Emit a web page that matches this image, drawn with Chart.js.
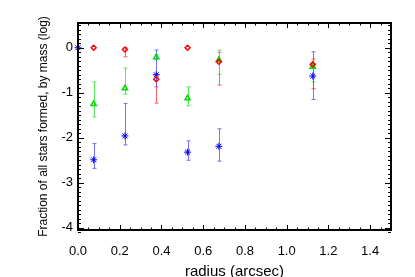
<!DOCTYPE html>
<html>
<head>
<meta charset="utf-8">
<script src="https://cdn.jsdelivr.net/npm/chart.js@4"></script>
<style>
  html, body { margin: 0; padding: 0; background: #fff; }
  #wrap { width: 415px; height: 277px; }
</style>
</head>
<body>
<div id="wrap"><canvas id="chart" width="415" height="277"></canvas></div>
<script>
// radius (arcsec) / log mass fraction
const redX   = [0.075, 0.225, 0.375, 0.525, 0.675, 1.125];
const redY   = [0.0, -0.04, -0.70, 0.0, -0.31, -0.37];
const redLo  = [0.0, -0.20, -1.23, 0.0, -0.83, -0.91];
const redHi  = [0.0, 0.00, -0.60, 0.0, -0.10, -0.25];

const greenX  = [0.075, 0.225, 0.375, 0.525, 0.675, 1.125];
const greenY  = [-1.25, -0.90, -0.21, -1.12, -0.27, -0.42];
const greenLo = [-1.54, -1.03, -0.25, -1.29, -0.59, -0.76];
const greenHi = [-0.76, -0.45, -0.15, -0.87, -0.05, -0.35];

const blueX  = [0.0, 0.075, 0.225, 0.375, 0.525, 0.675, 1.125];
const blueY  = [0.0, -2.49, -1.96, -0.60, -2.32, -2.19, -0.63];
const blueLo = [0.0, -2.68, -2.16, -0.87, -2.50, -2.52, -1.15];
const blueHi = [0.0, -2.13, -1.24, -0.05, -2.07, -1.80, -0.09];

const xTicks = [0.0, 0.2, 0.4, 0.6, 0.8, 1.0, 1.2, 1.4];
const yTicks = [-4, -3, -2, -1, 0];

function pts(xs, ys) {
  return xs.map((x, i) => ({ x: x, y: ys[i] }));
}

// error bars drawn under the markers
const errorBars = {
  id: 'errorBars',
  beforeDatasetsDraw(chart) {
    const ctx = chart.ctx;
    const xs = chart.scales.x, ys = chart.scales.y;
    chart.data.datasets.forEach(ds => {
      if (!ds.errLo) return;
      ctx.save();
      ctx.strokeStyle = ds.errColor;
      ctx.lineWidth = 1;
      ds.data.forEach((p, i) => {
        const lo = ds.errLo[i], hi = ds.errHi[i];
        if (lo === hi) return;
        const px = Math.round(xs.getPixelForValue(p.x)) + 0.5;
        const y1 = ys.getPixelForValue(lo);
        const y2 = ys.getPixelForValue(hi);
        ctx.beginPath();
        ctx.moveTo(px, y1); ctx.lineTo(px, y2);
        ctx.moveTo(px - 2, y1); ctx.lineTo(px + 2, y1);
        ctx.moveTo(px - 2, y2); ctx.lineTo(px + 2, y2);
        ctx.stroke();
      });
      ctx.restore();
    });
  }
};

// box with inward ticks on all four sides
const frame = {
  id: 'frame',
  afterDraw(chart) {
    const ctx = chart.ctx;
    const a = chart.chartArea;
    const xs = chart.scales.x, ys = chart.scales.y;
    ctx.save();
    ctx.strokeStyle = '#000';
    ctx.lineWidth = 1;
    ctx.beginPath();
    for (let k = 0; k <= 30; k++) {
      const v = k * 0.05;
      const px = Math.round(xs.getPixelForValue(v)) + 0.5;
      const len = (k % 4 === 0) ? 5 : 2.5;
      ctx.moveTo(px, a.bottom); ctx.lineTo(px, a.bottom - len);
      ctx.moveTo(px, a.top); ctx.lineTo(px, a.top + len);
    }
    for (let k = -41; k <= 5; k++) {
      const v = k / 10;
      const py = Math.round(ys.getPixelForValue(v)) + 0.5;
      const len = (k % 10 === 0) ? 6 : 3;
      ctx.moveTo(a.left, py); ctx.lineTo(a.left + len, py);
      ctx.moveTo(a.right, py); ctx.lineTo(a.right - len, py);
    }
    ctx.stroke();
    ctx.lineWidth = 2;
    ctx.strokeRect(a.left, a.top, a.right - a.left, a.bottom - a.top);
    ctx.restore();
  }
};

const ctx = document.getElementById('chart').getContext('2d');
new Chart(ctx, {
  type: 'scatter',
  data: {
    datasets: [
      {
        label: 'red', data: pts(redX, redY), errLo: redLo, errHi: redHi,
        errColor: 'rgba(255,70,70,0.85)',
        pointStyle: 'rectRot', pointRadius: 2.5, borderColor: '#ff0000',
        backgroundColor: 'rgba(0,0,0,0)', borderWidth: 1.5, clip: false
      },
      {
        label: 'green', data: pts(greenX, greenY), errLo: greenLo, errHi: greenHi,
        errColor: 'rgba(60,230,60,0.85)',
        pointStyle: 'triangle', pointRadius: 3, borderColor: '#00dd00',
        backgroundColor: 'rgba(0,0,0,0)', borderWidth: 1.5, clip: false
      },
      {
        label: 'blue', data: pts(blueX, blueY), errLo: blueLo, errHi: blueHi,
        errColor: 'rgba(90,90,255,0.85)',
        pointStyle: 'star', pointRadius: 3.5, borderColor: '#0000ff',
        backgroundColor: 'rgba(0,0,0,0)', borderWidth: 1, clip: false
      }
    ]
  },
  options: {
    responsive: false,
    animation: false,
    events: [],
    layout: { padding: { left: 30, top: 23, right: 24, bottom: 0 } },
    plugins: { legend: { display: false }, tooltip: { enabled: false } },
    scales: {
      x: {
        type: 'linear', min: 0, max: 1.5,
        afterBuildTicks: s => { s.ticks = xTicks.map(v => ({ value: v })); },
        afterFit: s => { s.height = 47; },
        grid: { display: false, drawTicks: false },
        border: { display: false },
        ticks: {
          padding: 14, color: '#000', maxRotation: 0,
          font: { family: 'Liberation Sans, Arial, sans-serif', size: 13 },
          callback: v => Number(v).toFixed(1)
        },
        title: {
          display: true, text: 'radius (arcsec)', color: '#000',
          padding: 0,
          font: { family: 'Liberation Sans, Arial, sans-serif', size: 15, lineHeight: 0.75 }
        }
      },
      y: {
        type: 'linear', min: -4.05, max: 0.55,
        afterBuildTicks: s => { s.ticks = yTicks.map(v => ({ value: v })); },
        afterFit: s => { s.width = 48; },
        grid: { display: false, drawTicks: false },
        border: { display: false },
        ticks: {
          padding: 5, color: '#000',
          font: { family: 'Liberation Sans, Arial, sans-serif', size: 13 },
          callback: v => String(v)
        },
        title: {
          display: true, text: 'Fraction of all stars formed, by mass (log)', color: '#000',
          padding: { top: 6, bottom: 0 },
          font: { family: 'Liberation Sans, Arial, sans-serif', size: 12 }
        }
      }
    }
  },
  plugins: [errorBars, frame]
});
</script>
</body>
</html>
